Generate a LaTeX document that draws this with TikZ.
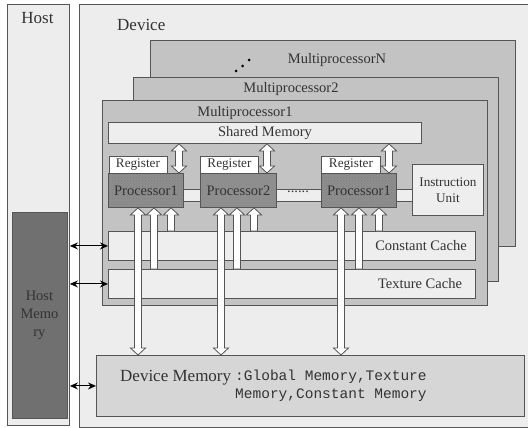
\documentclass[tikz,border=0pt]{standalone}
\usepackage{fontspec}
\setmainfont{Liberation Serif}
\setmonofont{Liberation Mono}
\usetikzlibrary{calc,arrows.meta,patterns}
\definecolor{bordc}{HTML}{555555}
\definecolor{txtc}{HTML}{333333}
\definecolor{bgc}{HTML}{EDEDED}
\definecolor{mpc}{HTML}{C3C3C3}
\definecolor{litec}{HTML}{EEEEEE}
\definecolor{procc}{HTML}{8E8E8E}
\definecolor{hmc}{HTML}{707070}
\definecolor{dmc}{HTML}{D6D6D6}
\newcommand\bigf{\fontsize{17}{20}\selectfont}
\newcommand\medf{\fontsize{14.5}{18}\selectfont}
\newcommand\smlf{\fontsize{13.2}{15.5}\selectfont}
\def\hh{7.5pt}\def\hl{7pt}\def\hw{3.5pt}
% hollow double arrow: x, top anchor, bottom anchor
\newcommand\hdbl[3]{%
  \path[harrow] let \p1=(#2), \p2=(#3) in
  (#1pt,\y1) -- (#1pt+\hh,\y1-\hl) -- (#1pt+\hw,\y1-\hl) -- (#1pt+\hw,\y2+\hl)
  -- (#1pt+\hh,\y2+\hl) -- (#1pt,\y2) -- (#1pt-\hh,\y2+\hl) -- (#1pt-\hw,\y2+\hl)
  -- (#1pt-\hw,\y1-\hl) -- (#1pt-\hh,\y1-\hl) -- cycle;}
% hollow up arrow: x, top anchor (tip), bottom anchor
\newcommand\hup[3]{%
  \path[harrow] let \p1=(#2), \p2=(#3) in
  (#1pt,\y1) -- (#1pt+\hh,\y1-\hl) -- (#1pt+\hw,\y1-\hl) -- (#1pt+\hw,\y2)
  -- (#1pt-\hw,\y2) -- (#1pt-\hw,\y1-\hl) -- (#1pt-\hh,\y1-\hl) -- cycle;}
\tikzset{
  box/.style={draw=bordc, line width=0.9pt, inner sep=0pt, anchor=north west, text=txtc},
  harrow/.style={draw=bordc, line width=0.8pt, fill=white, line join=miter},
  blk/.style={line width=1pt, black, {Stealth[length=8pt,width=7pt]}-{Stealth[length=8pt,width=7pt]}},
  lbl/.style={text=txtc, inner sep=0pt},
  hatched/.style={preaction={fill=procc}, pattern=crosshatch dots, pattern color=procc!88!black},
}
\begin{document}
\begin{tikzpicture}[x=1pt,y=-1pt]
\useasboundingbox (0,0) rectangle (528,428);
\clip (0,0) rectangle (528,428);
\fill[white] (0,0) rectangle (528,428);
% host
\node[box, fill=bgc, minimum width=62, minimum height=421] (host) at (7,4) {};
\node[lbl, font=\bigf] (hosttxt) at (37.5,18) {Host};
\node[box, fill=hmc, minimum width=55, minimum height=206] (hostmem) at (11.5,212) {};
\node[lbl, font=\medf, align=center] (hmtxt) at (hostmem) {Host\\[0pt]Memo\\ry};
% device
\node[box, fill=bgc, minimum width=470, minimum height=423] (dev) at (79,4) {};
\node[lbl, font=\bigf, anchor=west] (devtxt) at (117,25) {Device};
% multiprocessors
\node[box, fill=mpc, minimum width=365, minimum height=206] (mpN) at (150,40) {};
\node[lbl, font=\medf] (mpNtxt) at (337,60) {MultiprocessorN};
\fill[black] (236,71) circle (1.5) (242.5,66) circle (1.5) (249,60) circle (1.5);
\node[box, fill=mpc, minimum width=365, minimum height=204] (mp2) at (133,77) {};
\node[lbl, font=\medf] (mp2txt) at (291,89) {Multiprocessor2};
\node[box, fill=mpc, minimum width=385, minimum height=205] (mp1) at (102,100) {};
\node[lbl, font=\medf] (mp1txt) at (245,113) {Multiprocessor1};
% shared memory
\node[box, fill=litec, minimum width=313, minimum height=21] (shm) at (108,122) {};
\node[lbl, font=\medf] at (shm) {Shared Memory};
% bar
\node[box, fill=litec, minimum width=229, minimum height=12] (bar) at (183,189) {};
\node[lbl, font=\medf] (dots) at (298,192) {......};
% registers and processors
\node[box, fill=white, minimum width=58, minimum height=17, font=\smlf] (reg1) at (108.5,156) {Register};
\node[box, fill=white, minimum width=58, minimum height=17, font=\smlf] (reg2) at (200,156) {Register};
\node[box, fill=white, minimum width=59, minimum height=17, font=\smlf] (reg3) at (321,156) {Register};
\node[box, hatched, minimum width=75, minimum height=34] (p1) at (108,173) {};
\node[lbl, font=\medf] at (p1) {Processor1};
\node[box, fill=procc, minimum width=76, minimum height=34, font=\medf] (p2) at (200,173) {Processor2};
\node[box, hatched, minimum width=75, minimum height=34] (p3) at (321,173) {};
\node[lbl, font=\medf] at (p3) {Processor1};
\node[box, fill=litec, minimum width=71, minimum height=51, font=\smlf, align=center] (iu) at (412,164) {Instruction\\Unit};
% caches
\node[box, fill=litec, minimum width=367, minimum height=29] (cc) at (108,231) {};
\node[lbl, font=\medf] (cctxt) at (421,245.5) {Constant Cache};
\node[box, fill=litec, minimum width=367, minimum height=29] (tc) at (108,269) {};
\node[lbl, font=\medf] (tctxt) at (420,283.5) {Texture Cache};
% device memory
\node[box, fill=dmc, minimum width=428, minimum height=61] (dm) at (96,355) {};
\node[lbl, font=\bigf, anchor=west] (dmtxt) at (120,378) {Device Memory};
\node[lbl, font=\medf\ttfamily, anchor=north west, align=left] (dmtt) at (235,370) {:Global Memory,Texture\\Memory,Constant Memory};
% shared memory <-> processors
\hdbl{179}{shm.south}{p1.north}
\hdbl{267}{shm.south}{p2.north}
\hdbl{389}{shm.south}{p3.north}
% processor arrows
\hdbl{138}{p1.south}{dm.north}
\hup{154}{p1.south}{tc.north}
\hup{171}{p1.south}{cc.north}
\hdbl{221}{p2.south}{dm.north}
\hup{237}{p2.south}{tc.north}
\hup{254}{p2.south}{cc.north}
\hdbl{341}{p3.south}{dm.north}
\hup{359}{p3.south}{tc.north}
\hup{379}{p3.south}{cc.north}
% host links
\draw[blk] (host.east |- cc.west) -- (cc.west);
\draw[blk] (host.east |- tc.west) -- (tc.west);
\draw[blk] (host.east |- dm.west) -- (dm.west);
\end{tikzpicture}
\end{document}
